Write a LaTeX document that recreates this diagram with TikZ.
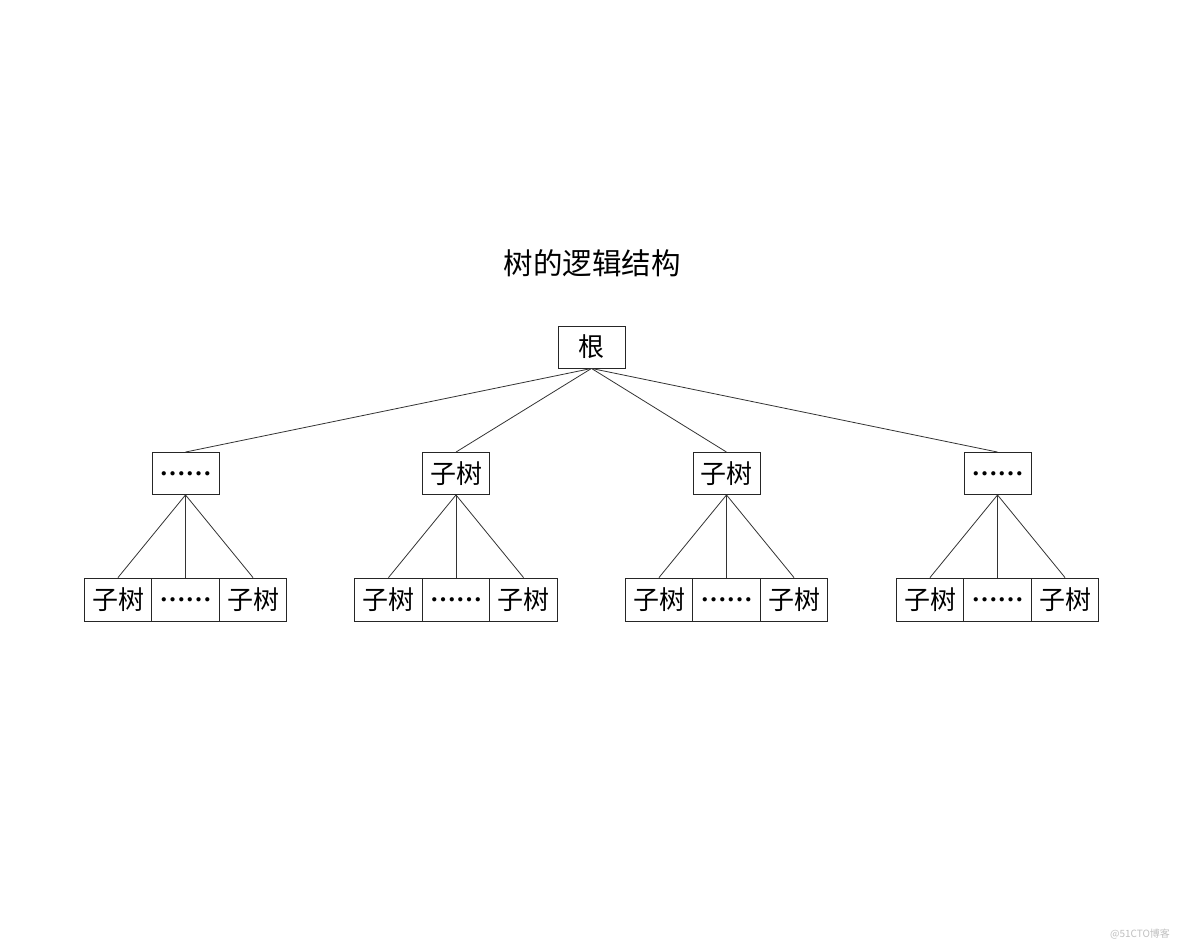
\documentclass[tikz,border=0pt]{standalone}
\usepackage{fontspec}
\newfontfamily\cjk{Noto Sans CJK SC}
\newfontfamily\dotsfont{Liberation Serif}
\newcommand{\mydots}{\raisebox{7.5pt}[18pt][0pt]{\dotsfont\bfseries\fontsize{26}{26}\selectfont ……}}
\begin{document}
\begin{tikzpicture}[x=1pt,y=-1pt,
  box/.style={draw=black!85, line width=0.9pt, minimum width=67pt, minimum height=42pt, inner sep=0pt, font=\cjk\fontsize{26}{26}\selectfont},
  cell/.style={box, minimum width=67.5pt, minimum height=43pt},
  edge/.style={draw=black!80, line width=0.8pt}]
\useasboundingbox (0,0) rectangle (1184,947);
\node[font=\cjk\fontsize{29.5}{29.5}\selectfont] (title) at (592,263) {树的逻辑结构};
\node[box] (root) at (591.5,347) {根};
\node[box] (a) at (185.5,473.5) {\mydots};
\node[box] (b) at (456,473.5) {子树};
\node[box] (c) at (726.5,473.5) {子树};
\node[box] (d) at (997.5,473.5) {\mydots};
\foreach \g/\x in {a/118,b/388.5,c/659,d/930}{
  \node[cell] (\g1) at (\x,599.5) {子树};
  \node[cell] (\g2) at (\x+67.5,599.5) {\mydots};
  \node[cell] (\g3) at (\x+135,599.5) {子树};
  \draw[edge] (\g.south) -- (\g1.north);
  \draw[edge] (\g.south) -- (\g2.north);
  \draw[edge] (\g.south) -- (\g3.north);
  \draw[edge] (root.south) -- (\g.north);
}
\node[font=\cjk\fontsize{10}{10}\selectfont, text=black!25] (wm) at (1140,934) {@51CTO博客};
\end{tikzpicture}
\end{document}
